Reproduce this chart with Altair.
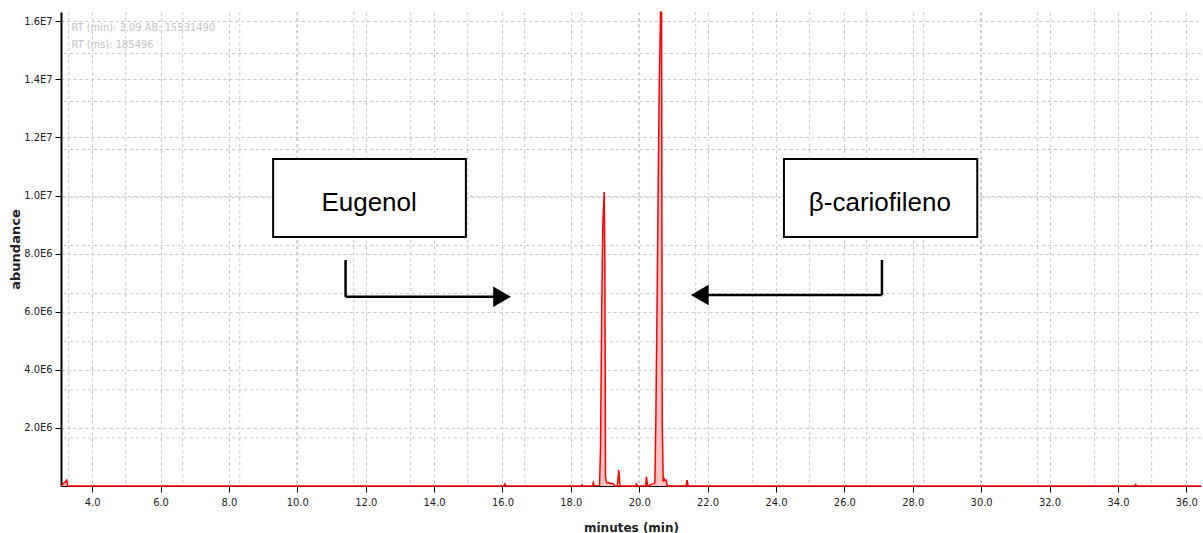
import altair as alt
import pandas as pd

# ---- chromatogram data (minutes, abundance) ----
times = [3.09, 3.26, 3.28, 16.04, 16.07, 16.10, 18.30, 18.33, 18.36, 18.63, 18.66, 18.69,
         18.84, 18.869, 18.889, 18.908, 18.938, 18.977, 18.996, 19.015, 19.045, 19.24, 19.29,
         19.36, 19.38, 19.40, 19.42, 19.44, 19.89, 19.92, 19.95, 20.19, 20.21, 20.23, 20.25,
         20.459, 20.488, 20.527, 20.556, 20.585, 20.625, 20.654, 20.673, 20.703, 20.73, 20.76,
         20.79, 20.82, 21.37, 21.40, 21.43, 34.49, 34.52, 34.55, 36.43]
abund_millions = [0, 0.2, 0, 0, 0.07, 0, 0, 0.04, 0, 0, 0.12, 0,
                  0.02, 1.31, 3.99, 6.57, 9.09, 10.12, 7.57, 0.3, 0.12, 0.08, 0,
                  0, 0.25, 0.55, 0.3, 0, 0, 0.07, 0, 0, 0.32, 0.12, 0,
                  0.1, 2.39, 6.8, 10.36, 13.69, 16.32, 16.3, 2.21, 0.15, 0.25, 0.18,
                  0.2, 0, 0, 0.2, 0, 0, 0.05, 0, 0]

x_ticks = [4, 6, 8, 10, 12, 14, 16, 18, 20, 22, 24, 26, 28, 30, 32, 34, 36]
y_ticks = [2e6, 4e6, 6e6, 8e6, 10e6, 12e6, 14e6, 16e6]
# secondary (software) grid lines
x_grid2 = [3.318 + 1.6667 * k for k in range(20)]
y_grid2 = [1.655e6 * k for k in range(1, 10)]

# annotations (data coordinates)
labels = ["Eugenol", "β-cariofileno"]
box_x1 = [9.294, 24.233]
box_x2 = [14.931, 29.887]
box_y1 = [8.571e6, 8.571e6]
box_y2 = [11.256e6, 11.256e6]
label_x = [12.10, 27.04]
label_y = [9.467e6, 9.467e6]

seg_x1 = [11.412, 11.412, 27.099, 27.099]
seg_x2 = [11.412, 15.95, 27.099, 21.80]
seg_y1 = [7.78e6, 6.516e6, 7.78e6, 6.575e6]
seg_y2 = [6.516e6, 6.516e6, 6.575e6, 6.575e6]

head_x = [15.99, 21.77]
head_y = [6.516e6, 6.575e6]
head_shape = ["triangle-right", "triangle-left"]

header_lines = ["RT (min): 3.09 AB: 15531490", "RT (ms): 185496"]
header_x = [3.397, 3.397]
header_y = [15.756e6, 15.181e6]

X_DOM = [3.09, 36.43]
Y_DOM = [0, 16.32e6]

df = pd.DataFrame({"t": times, "a": [v * 1e6 for v in abund_millions]})
xs = alt.Scale(domain=X_DOM, nice=False, zero=False)
ys = alt.Scale(domain=Y_DOM, nice=False, zero=False)

GRID = "#c8c8c8"
TICKFONT = "DejaVu Sans Condensed"

XAX = alt.Axis(
    values=x_ticks, format=".1f", title="minutes (min)",
    grid=True, gridColor=GRID, gridDash=[3, 3],
    domainColor="black", domainWidth=1, tickColor="black", tickSize=6,
    labelFont=TICKFONT, labelFontSize=11, labelColor="#222", labelPadding=4,
    titleFont="DejaVu Sans", titleFontSize=12, titleFontWeight="bold",
    titleColor="#222", titleBaseline="middle", titleY=41,
)
YAX = alt.Axis(
    values=y_ticks, title="abundance",
    labelExpr="datum.value >= 1e7 ? format(datum.value/1e7, '.1f') + 'E7' : format(datum.value/1e6, '.1f') + 'E6'",
    grid=True, gridColor=GRID, gridDash=[3, 3],
    domainColor="black", domainWidth=2, tickColor="black", tickSize=6,
    labelFont=TICKFONT, labelFontSize=11, labelColor="#222", labelPadding=3,
    titleFont="DejaVu Sans", titleFontSize=13, titleFontWeight="bold",
    titleColor="#222", titleX=-46, titleY=237, titleAngle=-90,
    titleAlign="center", titleBaseline="middle",
)


def X(field):
    return alt.X(field, scale=xs, axis=XAX)


def Y(field):
    return alt.Y(field, scale=ys, axis=YAX)


vgrid2 = alt.Chart(pd.DataFrame({"gx": x_grid2})).mark_rule(
    color=GRID, strokeDash=[3, 3], strokeWidth=1
).encode(x=X("gx:Q"))

hgrid2 = alt.Chart(pd.DataFrame({"gy": y_grid2})).mark_rule(
    color=GRID, strokeDash=[3, 3], strokeWidth=1
).encode(y=Y("gy:Q"))

main = alt.Chart(df).mark_area(
    color="#ffc4c4", opacity=1,
    line={"color": "#ff0000", "strokeWidth": 1.5},
).encode(x=X("t:Q"), y=Y("a:Q"))

ann = pd.DataFrame({"label": labels, "x1": box_x1, "x2": box_x2, "y1": box_y1, "y2": box_y2,
                    "lx": label_x, "ly": label_y})

boxes = alt.Chart(ann).mark_rect(fill="white", stroke="black", strokeWidth=2).encode(
    x=X("x1:Q"), x2="x2:Q", y=Y("y1:Q"), y2="y2:Q",
)

box_text = alt.Chart(ann).mark_text(
    font="Liberation Sans", fontSize=26, color="black", align="center", baseline="alphabetic"
).encode(x=X("lx:Q"), y=Y("ly:Q"), text="label:N")

segs = pd.DataFrame({"x1": seg_x1, "x2": seg_x2, "y1": seg_y1, "y2": seg_y2})
arrows = alt.Chart(segs).mark_rule(color="black", strokeWidth=2.5).encode(
    x=X("x1:Q"), x2="x2:Q", y=Y("y1:Q"), y2="y2:Q",
)

heads = alt.Chart(pd.DataFrame({"hx": head_x, "hy": head_y, "shape": head_shape})).mark_point(
    filled=True, color="black", opacity=1, size=420
).encode(
    x=X("hx:Q"), y=Y("hy:Q"),
    shape=alt.Shape("shape:N", scale=None, legend=None),
)

header = alt.Chart(pd.DataFrame({"txt": header_lines, "hx": header_x, "hy": header_y})).mark_text(
    font=TICKFONT, fontSize=11, color="#c4c4c4", align="left", baseline="middle"
).encode(x=X("hx:Q"), y=Y("hy:Q"), text="txt:N")

chart = alt.layer(vgrid2, hgrid2, main, boxes, box_text, arrows, heads, header).properties(
    width=1140, height=474,
    autosize=alt.AutoSizeParams(type="none"),
    padding={"left": 61, "top": 12, "right": 2, "bottom": 47},
    background="white",
).configure_view(stroke=None)

chart.save("out.html", embed_options={"renderer": "svg", "actions": False})
